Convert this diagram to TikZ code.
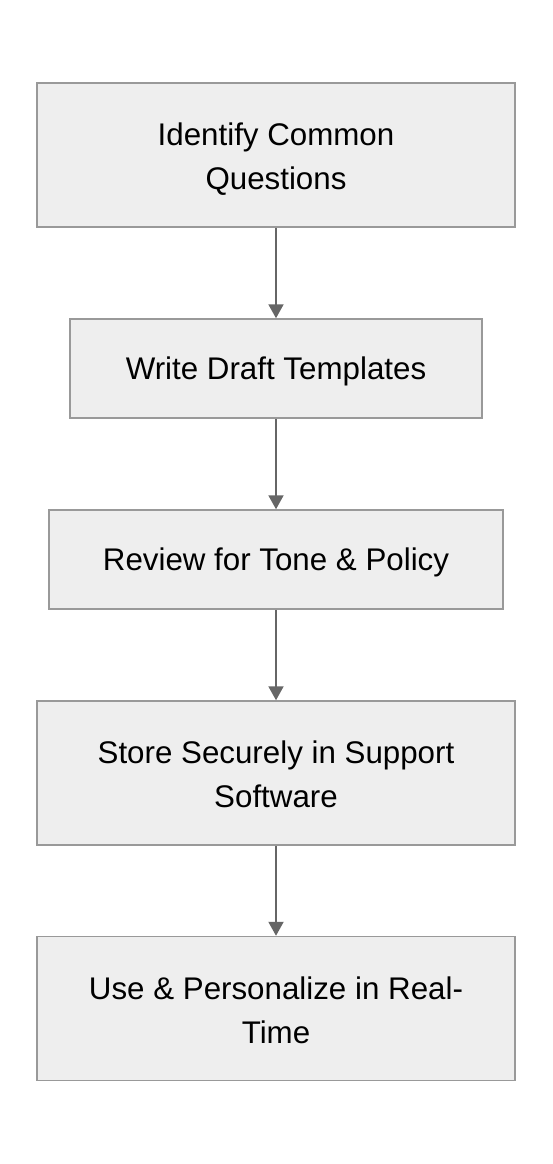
\documentclass[tikz,border=0pt]{standalone}
\usepackage{fontspec}
\setmainfont{Liberation Sans}
\usetikzlibrary{arrows.meta}
\definecolor{boxfill}{HTML}{EEEEEE}
\definecolor{boxline}{HTML}{999999}
\definecolor{arrline}{HTML}{666666}
\begin{document}
\begin{tikzpicture}[x=1pt,y=-1pt,
  stepbox/.style={draw=boxline, line width=1.5pt, fill=boxfill, rectangle,
    align=center, inner sep=0pt, font=\fontsize{31.3}{44}\selectfont,
    text=black, text height=22.4pt, text depth=0pt},
  twoline/.style={text height=69.4pt, text depth=0pt},
  flow/.style={draw=arrline, line width=2pt,
    -{Triangle[width=15pt,length=14pt]}}]
\useasboundingbox (0,0) rectangle (552,1164);
\fill[white] (0,0) rectangle (552,1164);
\node[stepbox, twoline, minimum width=478pt, minimum height=144pt] (a) at (276,155)
  {Identify Common\\Questions};
\node[stepbox, minimum width=412pt, minimum height=99pt] (b) at (276,368.5)
  {Write Draft Templates};
\node[stepbox, minimum width=454pt, minimum height=99pt] (c) at (276,559.5)
  {Review for Tone \& Policy};
\node[stepbox, twoline, minimum width=478pt, minimum height=144pt] (d) at (276,773)
  {Store Securely in Support\\Software};
\node[stepbox, twoline, minimum width=478pt, minimum height=144pt] (e) at (276,1008.5)
  {Use \& Personalize in Real-\\Time};
\draw[flow] (a.south) -- (b.north);
\draw[flow] (b.south) -- (c.north);
\draw[flow] (c.south) -- (d.north);
\draw[flow] (d.south) -- (e.north);
\end{tikzpicture}
\end{document}
